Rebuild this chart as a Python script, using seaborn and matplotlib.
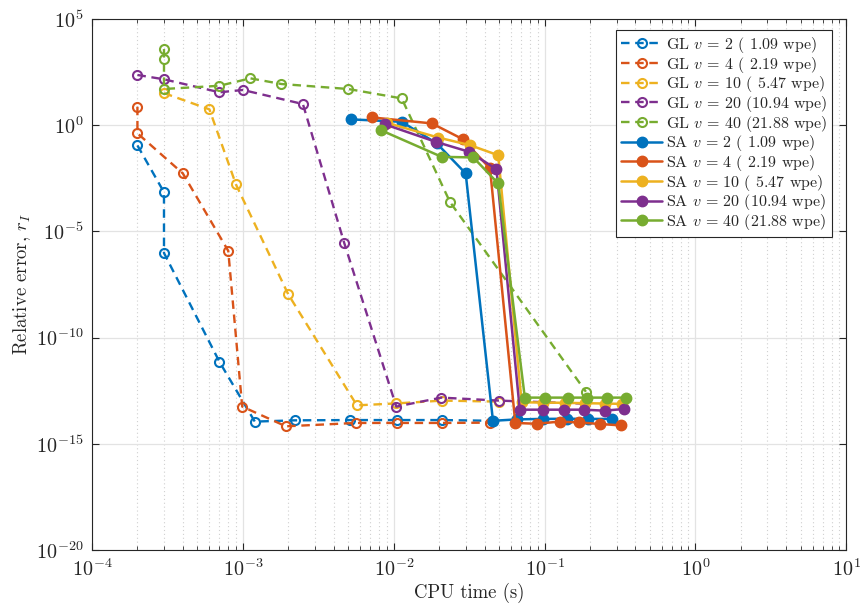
import numpy as np
import pandas as pd
import seaborn as sns
import matplotlib.pyplot as plt
from matplotlib.ticker import FixedLocator, LogLocator, FuncFormatter, NullFormatter, NullLocator

sns.set_theme(style="white")
plt.rcParams['font.family'] = ['cmr10', 'DejaVu Serif']
plt.rcParams['mathtext.fontset'] = 'cm'
plt.rcParams['axes.unicode_minus'] = False
plt.rcParams['axes.formatter.use_mathtext'] = True

# MATLAB default colour order
matlab = ["#0072BD", "#D95319", "#EDB120", "#7E2F8E", "#77AC30"]

vs = [2, 4, 10, 20, 40]
wpe = [' 1.09', ' 2.19', ' 5.47', '10.94', '21.88']

# GL (dashed, open markers)
gl2_t = [2.0e-4, 3.0e-4, 3.0e-4, 7.0e-4, 1.2e-3, 2.2e-3, 5.1e-3, 1.05e-2, 2.1e-2, 4.5e-2]
gl2_err = [0.11, 6.9e-4, 9.5e-7, 7.1e-12, 1.1e-14, 1.26e-14, 1.3e-14, 1.3e-14, 1.3e-14, 1.2e-14]

gl4_t = [2.0e-4, 2.0e-4, 4.0e-4, 8.0e-4, 9.9e-4, 1.93e-3, 5.6e-3, 1.05e-2, 2.1e-2, 4.35e-2]
gl4_err = [7.3, 0.41, 5.3e-3, 1.2e-6, 5.6e-14, 6.6e-15, 9.5e-15, 9.5e-15, 9.5e-15, 9.8e-15]

gl10_t = [3.0e-4, 6.0e-4, 9.0e-4, 2.0e-3, 5.7e-3, 1.04e-2, 2.1e-2, 5.0e-2]
gl10_err = [32, 5.5, 1.6e-3, 1.07e-8, 6.4e-14, 7.9e-14, 1.07e-13, 9.6e-14]

gl20_t = [2.0e-4, 3.0e-4, 7.0e-4, 1.0e-3, 2.5e-3, 4.7e-3, 1.04e-2, 2.07e-2, 5.0e-2, 1.85e-1]
gl20_err = [229, 143, 35, 45, 9.8, 2.8e-6, 5.6e-14, 1.48e-13, 1.07e-13, 7.7e-14]

gl40_t = [3.0e-4, 3.0e-4, 3.0e-4, 7.0e-4, 1.12e-3, 1.8e-3, 5.0e-3, 1.13e-2, 2.36e-2, 1.88e-1]
gl40_err = [3.8e3, 1.3e3, 50, 71, 159, 86, 50, 18, 2.4e-4, 2.8e-13]

# SA (solid, filled markers)
sa2_t = [5.2e-3, 1.13e-2, 1.93e-2, 3.0e-2, 4.55e-2, 6.6e-2, 9.8e-2, 0.14, 0.195, 0.278]
sa2_err = [1.86, 1.43, 0.137, 5.3e-3, 1.2e-14, 1.4e-14, 1.47e-14, 1.5e-14, 1.47e-14, 1.47e-14]

sa4_t = [7.15e-3, 1.79e-2, 2.86e-2, 4.35e-2, 6.4e-2, 8.85e-2, 0.126, 0.17, 0.232, 0.32]
sa4_err = [2.3, 1.2, 0.22, 9.1e-3, 9.5e-15, 8.7e-15, 1.1e-14, 1.0e-14, 8.5e-15, 7.3e-15]

sa10_t = [9.0e-3, 1.97e-2, 3.2e-2, 4.93e-2, 7.05e-2, 9.7e-2, 0.136, 0.185, 0.25, 0.327]
sa10_err = [1.28, 0.26, 0.114, 0.038, 8.9e-14, 8.7e-14, 8.4e-14, 8.1e-14, 7.8e-14, 7.5e-14]

sa20_t = [8.75e-3, 1.9e-2, 3.17e-2, 4.8e-2, 6.85e-2, 9.8e-2, 0.135, 0.182, 0.25, 0.335]
sa20_err = [1.08, 0.163, 0.055, 8.4e-3, 4.0e-14, 4.0e-14, 4.0e-14, 4.0e-14, 3.6e-14, 4.3e-14]

sa40_t = [8.2e-3, 2.08e-2, 3.37e-2, 4.93e-2, 7.4e-2, 0.1, 0.143, 0.19, 0.258, 0.349]
sa40_err = [0.58, 0.032, 0.030, 1.78e-3, 1.48e-13, 1.48e-13, 1.48e-13, 1.48e-13, 1.48e-13, 1.48e-13]

x_ticks = [1e-4, 1e-3, 1e-2, 1e-1, 1e0, 1e1]
y_ticks = [1e-20, 1e-15, 1e-10, 1e-5, 1e0, 1e5]

gl = [(gl2_t, gl2_err), (gl4_t, gl4_err), (gl10_t, gl10_err), (gl20_t, gl20_err), (gl40_t, gl40_err)]
sa = [(sa2_t, sa2_err), (sa4_t, sa4_err), (sa10_t, sa10_err), (sa20_t, sa20_err), (sa40_t, sa40_err)]

fig = plt.figure(figsize=(8.6, 6.09), dpi=100)
ax = fig.add_axes([0.107, 0.097, 0.877, 0.872])
ax.set_xscale('log')
ax.set_yscale('log')

for (t, e), v, w, c in zip(gl, vs, wpe, matlab):
    df = pd.DataFrame({'t': t, 'err': e})
    sns.lineplot(data=df, x='t', y='err', ax=ax, sort=False, estimator=None,
                 color=c, lw=1.7, dashes=False, linestyle=(0, (3.6, 2.4)),
                 marker='o', markersize=6.5, mfc='none', mec=c, mew=1.5,
                 label=r'GL $v\,=\,%d$ (%s wpe)' % (v, w))

for (t, e), v, w, c in zip(sa, vs, wpe, matlab):
    df = pd.DataFrame({'t': t, 'err': e})
    sns.lineplot(data=df, x='t', y='err', ax=ax, sort=False, estimator=None,
                 color=c, lw=1.8, marker='o', markersize=7.5, mfc=c, mec=c, mew=1,
                 label=r'SA $v\,=\,%d$ (%s wpe)' % (v, w))

ax.set_xlim(1e-4, 1e1)
ax.set_ylim(1e-20, 1e5)

ax.xaxis.set_major_locator(FixedLocator(x_ticks))
ax.xaxis.set_minor_locator(LogLocator(base=10, subs=np.arange(2, 10), numticks=20))
ax.xaxis.set_minor_formatter(NullFormatter())
ax.yaxis.set_major_locator(FixedLocator(y_ticks))
ax.yaxis.set_minor_locator(NullLocator())

fmt = FuncFormatter(lambda val, pos: r'$\mathsf{10^{%d}}$' % round(np.log10(val)))
ax.xaxis.set_major_formatter(fmt)
ax.yaxis.set_major_formatter(fmt)

ax.grid(True, which='major', color='#e3e3e3', lw=0.9, ls='-')
ax.grid(True, which='minor', axis='x', color='#d0d0d0', lw=0.8, ls=(0, (1, 2.5)))
ax.set_axisbelow(True)

for s in ax.spines.values():
    s.set_color('#262626')
    s.set_linewidth(0.8)
ax.tick_params(which='both', direction='in', top=True, right=True, bottom=True, left=True,
               color='#262626', labelsize=14.5, labelcolor='#262626')
ax.tick_params(which='major', length=5, width=0.8, pad=6)
ax.tick_params(which='minor', length=3, width=0.6)

ax.set_xlabel('CPU time (s)', fontsize=13.5, color='#262626', labelpad=2)
ax.set_ylabel('Relative error, $r_I$', fontsize=13.5, color='#262626', labelpad=2)

leg = ax.legend(loc='upper right', bbox_to_anchor=(0.981, 0.979), fontsize=11.5,
                frameon=True, fancybox=False, framealpha=1, edgecolor='#262626',
                handlelength=2.6, handletextpad=0.2, labelspacing=-0.02,
                borderpad=0.3, borderaxespad=0)
leg.get_frame().set_linewidth(0.8)

fig.savefig('out.png', dpi=100)
